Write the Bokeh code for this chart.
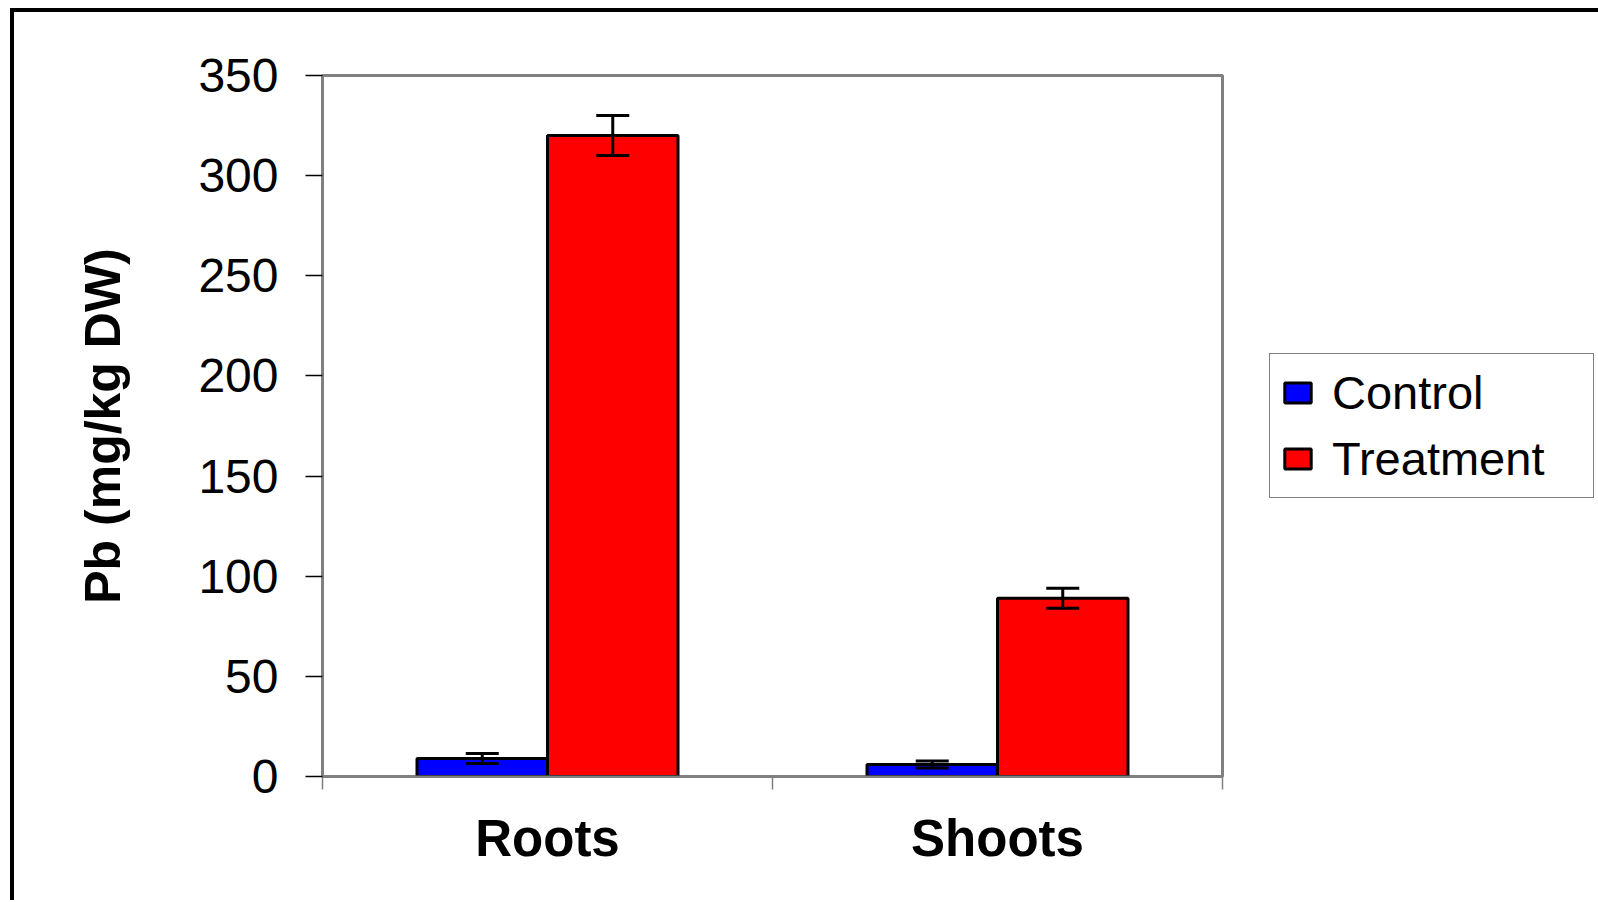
from bokeh.plotting import figure
from bokeh.models import (ColumnDataSource, Range1d, LinearAxis,
                          FixedTicker, Whisker, TeeHead, Legend, LegendItem)
from bokeh.transform import dodge
from bokeh.embed import file_html
from bokeh.resources import INLINE

# ---- data ----
categories = ["Roots", "Shoots"]
series_names = ["Control", "Treatment"]
control = [9, 6]
control_err = [2.5, 1.7]
treatment = [320, 89]
treatment_err = [10, 5]
y_ticks = [0, 50, 100, 150, 200, 250, 300, 350]
y_label = "Pb (mg/kg DW)"

# category slots on a numeric axis: centres at i + 0.5, boundaries at integers
centres = [i + 0.5 for i in range(len(categories))]
boundaries = list(range(len(categories) + 1))

src = ColumnDataSource(dict(
    x=centres,
    control=control,
    treatment=treatment,
    c_lo=[v - e for v, e in zip(control, control_err)],
    c_hi=[v + e for v, e in zip(control, control_err)],
    t_lo=[v - e for v, e in zip(treatment, treatment_err)],
    t_hi=[v + e for v, e in zip(treatment, treatment_err)],
))

FONT = "Liberation Sans"
GREY = "#808080"

p = figure(x_range=Range1d(boundaries[0], boundaries[-1]), y_range=Range1d(0, 350),
           frame_width=900, frame_height=701,
           min_border_left=308, min_border_top=63, min_border_right=376, min_border_bottom=124,
           output_backend="svg", toolbar_location=None,
           x_axis_location=None, y_axis_location=None)
p.styles = {"margin-top": "8px", "margin-left": "10px",
            "border-top": "4px solid black", "border-left": "4px solid black"}
p.outline_line_color = GREY
p.outline_line_width = 3
p.background_fill_color = "white"
p.border_fill_color = "white"
p.xgrid.grid_line_color = None
p.ygrid.grid_line_color = None

# y axis
yaxis = LinearAxis(ticker=FixedTicker(ticks=y_ticks), axis_label=y_label)
yaxis.axis_line_color = GREY
yaxis.axis_line_width = 2.5
yaxis.major_tick_out = 17
yaxis.major_tick_in = 0
yaxis.major_tick_line_color = "black"
yaxis.major_tick_line_width = 1.5
yaxis.minor_tick_out = 0
yaxis.minor_tick_in = 0
yaxis.major_label_standoff = 27
yaxis.major_label_text_font = FONT
yaxis.major_label_text_font_size = "48px"
yaxis.major_label_text_color = "black"
yaxis.axis_label_text_font = FONT
yaxis.axis_label_text_font_style = "bold"
yaxis.axis_label_text_font_size = "50px"
yaxis.axis_label_text_color = "black"
yaxis.axis_label_standoff = 64
p.add_layout(yaxis, "left")

# x axis: category names at slot centres, tick marks at slot boundaries
xaxis = LinearAxis(ticker=FixedTicker(ticks=centres, minor_ticks=boundaries),
                   major_label_overrides={c: name for c, name in zip(centres, categories)})
xaxis.axis_line_color = GREY
xaxis.axis_line_width = 2
xaxis.major_tick_line_color = None
xaxis.major_tick_out = 0
xaxis.major_tick_in = 0
xaxis.minor_tick_out = 13
xaxis.minor_tick_in = 0
xaxis.minor_tick_line_color = GREY
xaxis.minor_tick_line_width = 1.5
xaxis.major_label_standoff = 20
xaxis.major_label_text_font = FONT
xaxis.major_label_text_font_style = "bold"
xaxis.major_label_text_font_size = "51px"
xaxis.major_label_text_color = "black"
p.add_layout(xaxis, "below")

# bars
r1 = p.vbar(x=dodge("x", -0.145), top="control", width=0.29, source=src,
            fill_color="#0000FF", line_color="black", line_width=3)
r2 = p.vbar(x=dodge("x", 0.145), top="treatment", width=0.29, source=src,
            fill_color="#FF0000", line_color="black", line_width=3)

for off, lo, hi in [(-0.145, "c_lo", "c_hi"), (0.145, "t_lo", "t_hi")]:
    w = Whisker(base=dodge("x", off), lower=lo, upper=hi, source=src,
                line_color="black", line_width=3, level="overlay",
                upper_head=TeeHead(size=33, line_color="black", line_width=3),
                lower_head=TeeHead(size=33, line_color="black", line_width=3))
    p.add_layout(w)

legend = Legend(items=[LegendItem(label=series_names[0], renderers=[r1]),
                       LegendItem(label=series_names[1], renderers=[r2])],
                location=(47, 278))
legend.border_line_color = "black"
legend.border_line_width = 1
legend.background_fill_color = "white"
legend.background_fill_alpha = 1
legend.glyph_width = 33
legend.glyph_height = 25
legend.label_standoff = 18
legend.label_text_font = FONT
legend.label_text_font_size = "47px"
legend.label_text_color = "black"
legend.label_width = 250
legend.padding = 11
legend.spacing = 11
legend.margin = 0
p.add_layout(legend, "right")

open("out.html", "w").write(file_html(p, INLINE))
